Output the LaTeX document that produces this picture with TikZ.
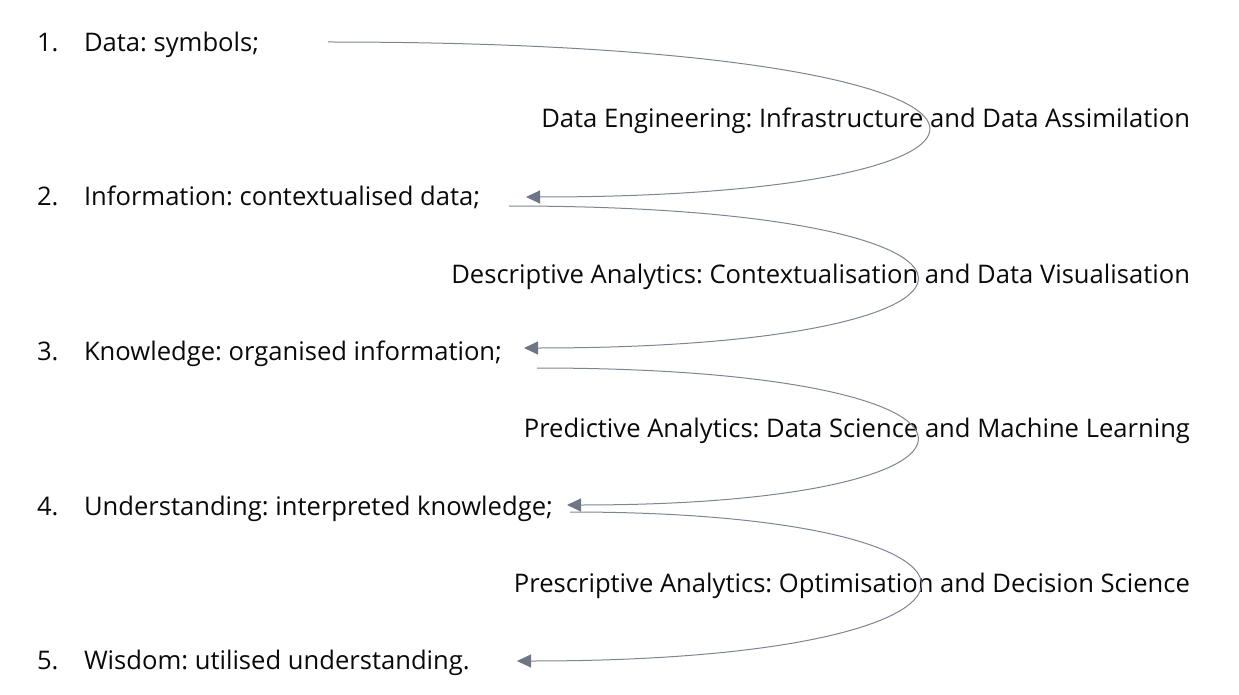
\documentclass[tikz,border=0pt]{standalone}
\usepackage{fontspec}
\setmainfont{Open Sans}
\frenchspacing
\usetikzlibrary{arrows.meta}
\definecolor{conn}{HTML}{7D8494}
\definecolor{tip}{HTML}{6E7584}
\definecolor{txt}{HTML}{0A0A0A}
\begin{document}
\begin{tikzpicture}[x=1pt,y=-1pt,
  every node/.style={inner sep=0pt,outer sep=0pt,text=txt,font=\fontsize{25.6}{31}\selectfont},
  num/.style={anchor=base west},
  item/.style={anchor=base west},
  lab/.style={anchor=base east},
  conn/.style={draw=conn,line width=1pt,-{Triangle[length=14pt,width=13pt,fill=tip,color=tip]}}]
\useasboundingbox (0,0) rectangle (1239,695);
% numbers
\node[num] (n1) at (37,52) {1.};
\node[num] (n2) at (37,206) {2.};
\node[num] (n3) at (37,360) {3.};
\node[num] (n4) at (37,515) {4.};
\node[num] (n5) at (37,669) {5.};
% items
\node[item] (i1) at (84,52) {Data: symbols;};
\node[item] (i2) at (84,206) {Information: contextualised data;};
\node[item] (i3) at (84,360) {Knowledge: organised information;};
\node[item] (i4) at (84,515) {Understanding: interpreted knowledge;};
\node[item] (i5) at (84,669) {Wisdom: utilised understanding.};
% labels
\node[lab] (l1) at (1190,128) {Data Engineering: Infrastructure and Data Assimilation};
\node[lab] (l2) at (1190,283) {Descriptive Analytics: Contextualisation and Data Visualisation};
\node[lab] (l3) at (1190,437) {Predictive Analytics: Data Science and Machine Learning};
\node[lab] (l4) at (1190,592) {Prescriptive Analytics: Optimisation and Decision Science};
% connector ends
\coordinate (s1) at (328,42);  \coordinate (e1) at (526,197);
\coordinate (s2) at (509,206); \coordinate (e2) at (524,348);
\coordinate (s3) at (537,368); \coordinate (e3) at (567,505);
\coordinate (s4) at (570,512); \coordinate (e4) at (517,661);
\draw[conn] (s1) .. controls (1091,42) and (1091,197) .. (e1);
\draw[conn] (s2) .. controls (1050,206) and (1050,348) .. (e2);
\draw[conn] (s3) .. controls (1038,368) and (1038,505) .. (e3);
\draw[conn] (s4) .. controls (1045,512) and (1045,661) .. (e4);
\end{tikzpicture}
\end{document}
